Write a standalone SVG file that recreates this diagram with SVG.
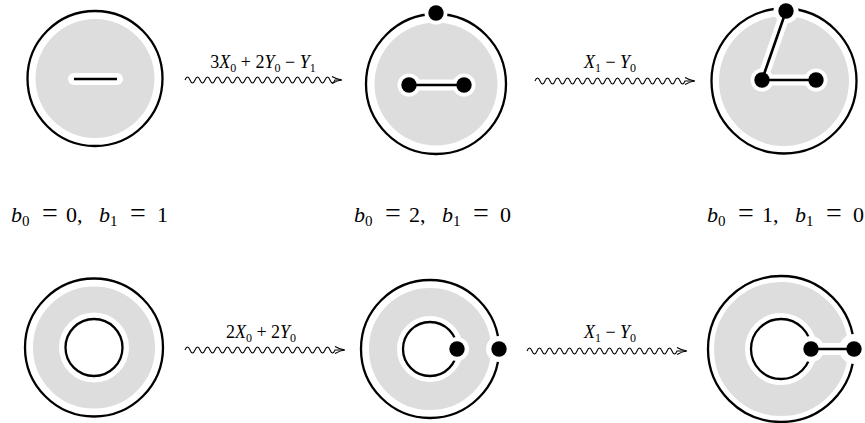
<svg xmlns="http://www.w3.org/2000/svg" width="865" height="423" viewBox="0 0 865 423">
<style>
.ring{fill:none;stroke:#000;stroke-width:2.3}
.gray{fill:#dddddd}
.gband{fill:none;stroke:#dddddd}
.halo{stroke:#fff;stroke-linecap:round;fill:none}
.hdot{fill:#fff}
.edge{stroke:#000;stroke-width:2.6;fill:none}
.dot{fill:#000}
.wave{fill:none;stroke:#000;stroke-width:1.1}
.head{fill:none;stroke:#000;stroke-width:1.1}
.it{font-style:italic}
</style>
<rect width="865" height="423" fill="#fff"/>

<g id="n1">
<circle cx="95" cy="78.5" r="67.5" class="ring"/>
<circle cx="95" cy="78.5" r="59.5" class="gray"/>
<line x1="74" y1="79" x2="117" y2="79" class="halo" stroke-width="12"/>
<line x1="74" y1="79" x2="117" y2="79" class="edge" stroke-width="3"/>
</g>

<g id="n2">
<circle cx="436" cy="84" r="70" class="ring"/>
<circle cx="436" cy="84" r="61.5" class="gray"/>
<line x1="409" y1="85" x2="464" y2="85" class="halo" stroke-width="11"/>
<circle cx="409" cy="85" r="11.5" class="hdot"/>
<circle cx="464" cy="85" r="11.5" class="hdot"/>
<circle cx="436" cy="13" r="11.5" class="hdot"/>
<line x1="409" y1="85" x2="464" y2="85" class="edge"/>
<circle cx="409" cy="85" r="7.7" class="dot"/>
<circle cx="464" cy="85" r="7.7" class="dot"/>
<circle cx="436" cy="13" r="7.7" class="dot"/>
</g>

<g id="n3">
<circle cx="784" cy="81" r="72.5" class="ring"/>
<circle cx="784" cy="81" r="65" class="gray"/>
<path d="M786,11 L762,80 L816,80" class="halo" stroke-width="11" stroke-linejoin="round"/>
<circle cx="786" cy="11" r="12.5" class="hdot"/>
<circle cx="762" cy="80" r="11.5" class="hdot"/>
<circle cx="816" cy="80" r="11.5" class="hdot"/>
<path d="M786,11 L762,80 L816,80" class="edge"/>
<circle cx="786" cy="11" r="7.7" class="dot"/>
<circle cx="762" cy="80" r="7.7" class="dot"/>
<circle cx="816" cy="80" r="7.7" class="dot"/>
</g>

<g id="n4">
<circle cx="94" cy="347.5" r="69" class="ring"/>
<circle cx="94" cy="347.5" r="48" class="gband" stroke-width="26"/>
<circle cx="94" cy="347.5" r="28.5" class="ring"/>
</g>

<g id="n5">
<circle cx="430" cy="349" r="69" class="ring"/>
<circle cx="430" cy="349" r="47" class="gband" stroke-width="28"/>
<circle cx="430" cy="349" r="27" class="ring"/>
<circle cx="457" cy="349" r="12" class="hdot"/>
<circle cx="499" cy="349" r="13" class="hdot"/>
<circle cx="457" cy="349" r="7.7" class="dot"/>
<circle cx="499" cy="349" r="7.7" class="dot"/>
</g>

<g id="n6">
<circle cx="781" cy="349" r="73" class="ring"/>
<circle cx="781" cy="349" r="51.5" class="gband" stroke-width="31"/>
<circle cx="781" cy="349" r="30" class="ring"/>
<line x1="811" y1="349" x2="854" y2="349" class="halo" stroke-width="12"/>
<circle cx="811" cy="349" r="13" class="hdot"/>
<circle cx="854" cy="349" r="15" class="hdot"/>
<line x1="811" y1="349" x2="854" y2="349" class="edge"/>
<circle cx="811" cy="349" r="7.7" class="dot"/>
<circle cx="854" cy="349" r="7.7" class="dot"/>
</g>

<g id="connectors">
<path class="wave" d="M185,80 q2.5,-6 5,0 t5,0 t5,0 t5,0 t5,0 t5,0 t5,0 t5,0 t5,0 t5,0 t5,0 t5,0 t5,0 t5,0 t5,0 t5,0 t5,0 t5,0 t5,0 t5,0 t5,0 t5,0 t5,0 t5,0 t5,0 t5,0 t5,0 t5,0 t5,0 t5,0 L341,80"/>
<path class="head" d="M332,76.5 Q337,79.5 342,80 Q337,80.5 332,83.5"/>
<path class="wave" d="M535,81 q2.5,-6 5,0 t5,0 t5,0 t5,0 t5,0 t5,0 t5,0 t5,0 t5,0 t5,0 t5,0 t5,0 t5,0 t5,0 t5,0 t5,0 t5,0 t5,0 t5,0 t5,0 t5,0 t5,0 t5,0 t5,0 t5,0 t5,0 t5,0 t5,0 t5,0 t5,0 L694,81"/>
<path class="head" d="M685,77.5 Q690,80.5 695,81 Q690,81.5 685,84.5"/>
<path class="wave" d="M185,350 q2.5,-6 5,0 t5,0 t5,0 t5,0 t5,0 t5,0 t5,0 t5,0 t5,0 t5,0 t5,0 t5,0 t5,0 t5,0 t5,0 t5,0 t5,0 t5,0 t5,0 t5,0 t5,0 t5,0 t5,0 t5,0 t5,0 t5,0 t5,0 t5,0 t5,0 t5,0 L344,350"/>
<path class="head" d="M335,346.5 Q340,349.5 345,350 Q340,350.5 335,353.5"/>
<path class="wave" d="M527,351 q2.5,-6 5,0 t5,0 t5,0 t5,0 t5,0 t5,0 t5,0 t5,0 t5,0 t5,0 t5,0 t5,0 t5,0 t5,0 t5,0 t5,0 t5,0 t5,0 t5,0 t5,0 t5,0 t5,0 t5,0 t5,0 t5,0 t5,0 t5,0 t5,0 t5,0 t5,0 L686,351"/>
<path class="head" d="M677,347.5 Q682,350.5 687,351 Q682,351.5 677,354.5"/>
</g>

<g id="labels" font-family="'Liberation Serif','DejaVu Serif',serif" fill="#000">
<text font-size="18" x="263" y="68" text-anchor="middle">3<tspan class="it">X</tspan><tspan font-size="12" dy="3.5">0</tspan><tspan dy="-3.5"> + </tspan>2<tspan class="it">Y</tspan><tspan font-size="12" dy="3.5">0</tspan><tspan dy="-3.5"> − </tspan><tspan class="it">Y</tspan><tspan font-size="12" dy="3.5">1</tspan></text>
<text font-size="18" x="610" y="68" text-anchor="middle"><tspan class="it">X</tspan><tspan font-size="12" dy="3.5">1</tspan><tspan dy="-3.5"> − </tspan><tspan class="it">Y</tspan><tspan font-size="12" dy="3.5">0</tspan></text>
<text font-size="18" x="261" y="338" text-anchor="middle">2<tspan class="it">X</tspan><tspan font-size="12" dy="3.5">0</tspan><tspan dy="-3.5"> + </tspan>2<tspan class="it">Y</tspan><tspan font-size="12" dy="3.5">0</tspan></text>
<text font-size="18" x="610" y="338" text-anchor="middle"><tspan class="it">X</tspan><tspan font-size="12" dy="3.5">1</tspan><tspan dy="-3.5"> − </tspan><tspan class="it">Y</tspan><tspan font-size="12" dy="3.5">0</tspan></text>

<text font-size="22" y="222"><tspan x="11" class="it">b</tspan><tspan x="22" dy="4" font-size="15">0</tspan><tspan x="42" dy="-4" font-size="28">=</tspan><tspan x="66">0,</tspan><tspan x="99" class="it">b</tspan><tspan x="110" dy="4" font-size="15">1</tspan><tspan x="130" dy="-4" font-size="28">=</tspan><tspan x="157">1</tspan></text>
<text font-size="22" y="222"><tspan x="354" class="it">b</tspan><tspan x="365" dy="4" font-size="15">0</tspan><tspan x="385" dy="-4" font-size="28">=</tspan><tspan x="409">2,</tspan><tspan x="442" class="it">b</tspan><tspan x="453" dy="4" font-size="15">1</tspan><tspan x="473" dy="-4" font-size="28">=</tspan><tspan x="500">0</tspan></text>
<text font-size="22" y="222"><tspan x="707" class="it">b</tspan><tspan x="718" dy="4" font-size="15">0</tspan><tspan x="738" dy="-4" font-size="28">=</tspan><tspan x="762">1,</tspan><tspan x="795" class="it">b</tspan><tspan x="806" dy="4" font-size="15">1</tspan><tspan x="826" dy="-4" font-size="28">=</tspan><tspan x="853">0</tspan></text>
</g>
</svg>
